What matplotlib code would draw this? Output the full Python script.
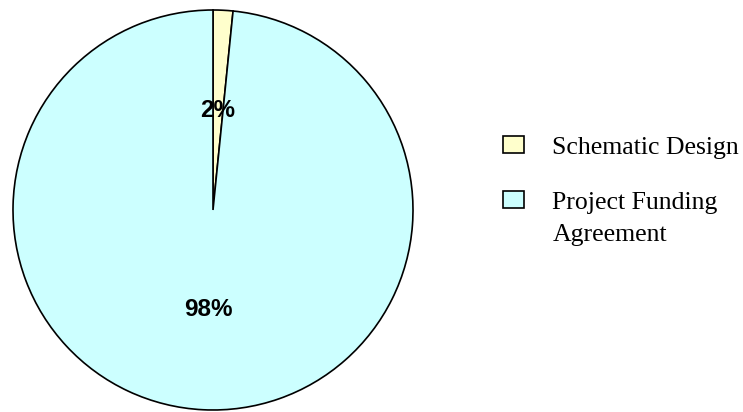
import numpy as np
import matplotlib
matplotlib.use("Agg")
import matplotlib.pyplot as plt
from matplotlib.patches import Rectangle
from matplotlib.legend_handler import HandlerPatch

# phases of the project and their share
phases = ["Schematic Design", "Project Funding\nAgreement"]
shares = [1.6, 98.4]
colours = ["#FFFFCC", "#CCFFFF"]

fig = plt.figure(figsize=(7.43, 4.12), dpi=100)
ax = fig.add_axes([11 / 743, 0 / 412, 404 / 743, 404 / 412])

wedges, texts, pcts = ax.pie(
    shares,
    colors=colours,
    startangle=90,
    counterclock=False,
    autopct="%.0f%%",
    pctdistance=0.5,
    wedgeprops=dict(edgecolor="black", linewidth=1.2),
    textprops=dict(family="Liberation Sans", fontweight="bold", fontsize=17.5),
)
ax.set_xlim(-1.01, 1.01)
ax.set_ylim(-1.01, 1.01)
ax.set_aspect("equal")
ax.axis("off")


# legend box sits next to the first line of a two-line label
def box_up(shift):
    def make(legend, orig_handle, xdescent, ydescent, width, height, fontsize):
        return Rectangle((-xdescent, -ydescent + shift), width, height)
    return make


leg = fig.legend(
    wedges,
    phases,
    loc="upper left",
    bbox_to_anchor=(503 / 743, 1 - 136 / 412),
    frameon=False,
    borderpad=0,
    borderaxespad=0,
    handlelength=0.82,
    handleheight=0.66,
    handletextpad=1.1,
    labelspacing=1.3,
    prop=dict(family="Liberation Serif", size=18.5),
    handler_map={wedges[1]: HandlerPatch(patch_func=box_up(14))},
)
for t in leg.get_texts():
    t.set_linespacing(1.6)
for h in leg.legend_handles:
    h.set_linewidth(1.2)

fig.savefig("out.png", dpi=100)
